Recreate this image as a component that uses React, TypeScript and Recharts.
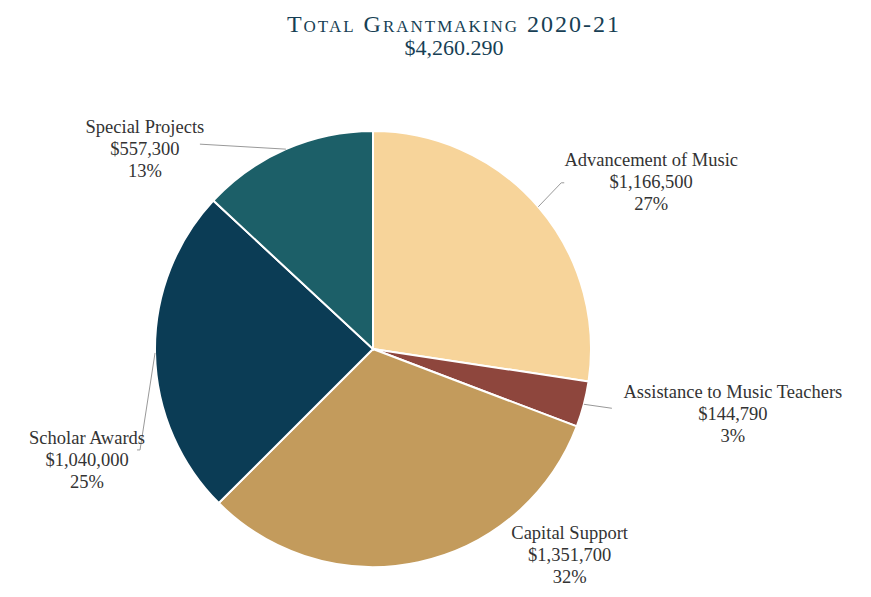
import { PieChart, Pie, Cell } from 'recharts';

const categories = [
  'Advancement of Music',
  'Assistance to Music Teachers',
  'Capital Support',
  'Scholar Awards',
  'Special Projects',
];
const amounts = [1166500, 144790, 1351700, 1040000, 557300];
const percentLabels = ['27%', '3%', '32%', '25%', '13%'];
const colors = ['#F7D49A', '#8E463D', '#C39B5C', '#0B3C55', '#1C5F68'];

// label placement relative to the slice's outer edge point
const labelLayout = [
  { tx: 113, ty: -47, line: [[23, -24], [26, -24]] },
  { tx: 149, ty: -12, line: [[28, 4]] },
  { tx: 151, ty: -29, line: [] },
  { tx: -68, ty: 85, line: [[-15, 97], [-18, 97]] },
  { tx: -141, ty: -22, line: [[-86, -5]] },
];

const data = categories.map((name, i) => ({ name, value: amounts[i] }));

const RAD = Math.PI / 180;
const FONT = '"Liberation Serif", "Times New Roman", serif';

function renderLabel(props: any) {
  const { cx, cy, midAngle, outerRadius, index } = props;
  const ex = cx + outerRadius * Math.cos(-midAngle * RAD);
  const ey = cy + outerRadius * Math.sin(-midAngle * RAD);
  const lay = labelLayout[index];
  const pts = [[ex, ey], ...lay.line.map(([dx, dy]) => [ex + dx, ey + dy])];
  const x = ex + lay.tx;
  const y = ey + lay.ty;
  const lines = [categories[index], '$' + amounts[index].toLocaleString('en-US'), percentLabels[index]];
  return (
    <g key={'lbl' + index}>
      {pts.length > 1 && (
        <polyline points={pts.map((p) => p.join(',')).join(' ')} fill="none" stroke="#999" strokeWidth={1} />
      )}
      {lines.map((t, k) => (
        <text
          key={k}
          x={x}
          y={y + k * 22}
          textAnchor="middle"
          dominantBaseline="central"
          fill="#333"
          style={{ fontFamily: FONT, fontSize: 18.5 }}
        >
          {t}
        </text>
      ))}
    </g>
  );
}

export default function App() {
  return (
    <div style={{ position: 'absolute', left: 0, top: 0, width: 871, height: 597, background: '#fff' }}>
      <div
        style={{
          position: 'absolute',
          left: 204,
          width: 500,
          top: 13,
          textAlign: 'center',
          fontFamily: FONT,
          color: '#173F55',
        }}
      >
        <div style={{ fontVariant: 'small-caps', fontSize: 24, letterSpacing: 2, lineHeight: '23px' }}>
          Total Grantmaking 2020-21
        </div>
        <div style={{ fontSize: 22, lineHeight: '23px' }}>$4,260.290</div>
      </div>
      <PieChart width={871} height={597} margin={{ top: 0, right: 0, bottom: 0, left: 0 }}>
        <Pie
          data={data}
          dataKey="value"
          nameKey="name"
          cx={373}
          cy={349}
          outerRadius={218}
          startAngle={90}
          endAngle={-270}
          stroke="#fff"
          strokeWidth={2}
          label={renderLabel}
          labelLine={false}
          isAnimationActive={false}
        >
          {data.map((d, i) => (
            <Cell key={d.name} fill={colors[i]} />
          ))}
        </Pie>
      </PieChart>
    </div>
  );
}
